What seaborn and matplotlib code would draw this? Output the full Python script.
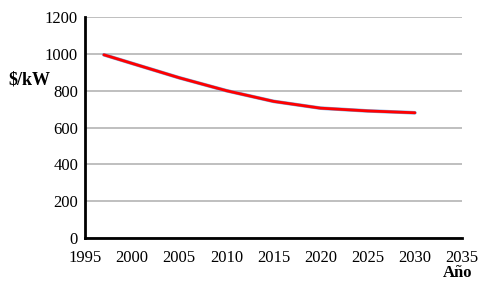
import pandas as pd
import matplotlib
matplotlib.use("Agg")
import matplotlib.pyplot as plt
import seaborn as sns

# Cost curve
years = [1997, 2000, 2005, 2010, 2015, 2020, 2025, 2030]
cost = [995, 948, 870, 800, 742, 705, 690, 680]

df = pd.DataFrame({"Año": years, "cost": cost})

sns.set_style("white")
plt.rcParams["font.family"] = ["Liberation Serif", "DejaVu Serif"]
plt.rcParams["text.color"] = "black"
plt.rcParams["xtick.color"] = "black"
plt.rcParams["ytick.color"] = "black"

fig = plt.figure(figsize=(4.93, 2.81), dpi=100)
ax = fig.add_axes([85 / 493, 43 / 281, 377 / 493, 221 / 281])

# thin blue line underneath, red line on top
sns.lineplot(data=df, x="Año", y="cost", ax=ax, color="#7fa6d8", linewidth=2.6)
sns.lineplot(data=df, x="Año", y="cost", ax=ax, color="#ff0000", linewidth=2.0)

ax.set_xlim(1995, 2035)
ax.set_ylim(0, 1200)
ax.set_xticks(range(1995, 2036, 5))
ax.set_yticks(range(0, 1201, 200))
ax.yaxis.grid(True, color="#b4b4b4", linewidth=1.2)
ax.set_axisbelow(True)

for side in ["top", "right"]:
    ax.spines[side].set_visible(False)
for side in ["left", "bottom"]:
    ax.spines[side].set_color("black")
    ax.spines[side].set_linewidth(2)

ax.tick_params(axis="both", labelsize=12, length=3, width=1, color="black",
               labelcolor="black", direction="out", pad=2)
ax.tick_params(axis="x", pad=6)

ax.set_xlabel("")
ax.set_ylabel("")
fig.text(8 / 493, 1 - 80 / 281, "$/kW", fontsize=13, fontweight="bold",
         ha="left", va="center")
fig.text(458 / 493, 1 - 273 / 281, "Año", fontsize=12, fontweight="bold",
         ha="center", va="center")

fig.savefig("out.png", dpi=100)
